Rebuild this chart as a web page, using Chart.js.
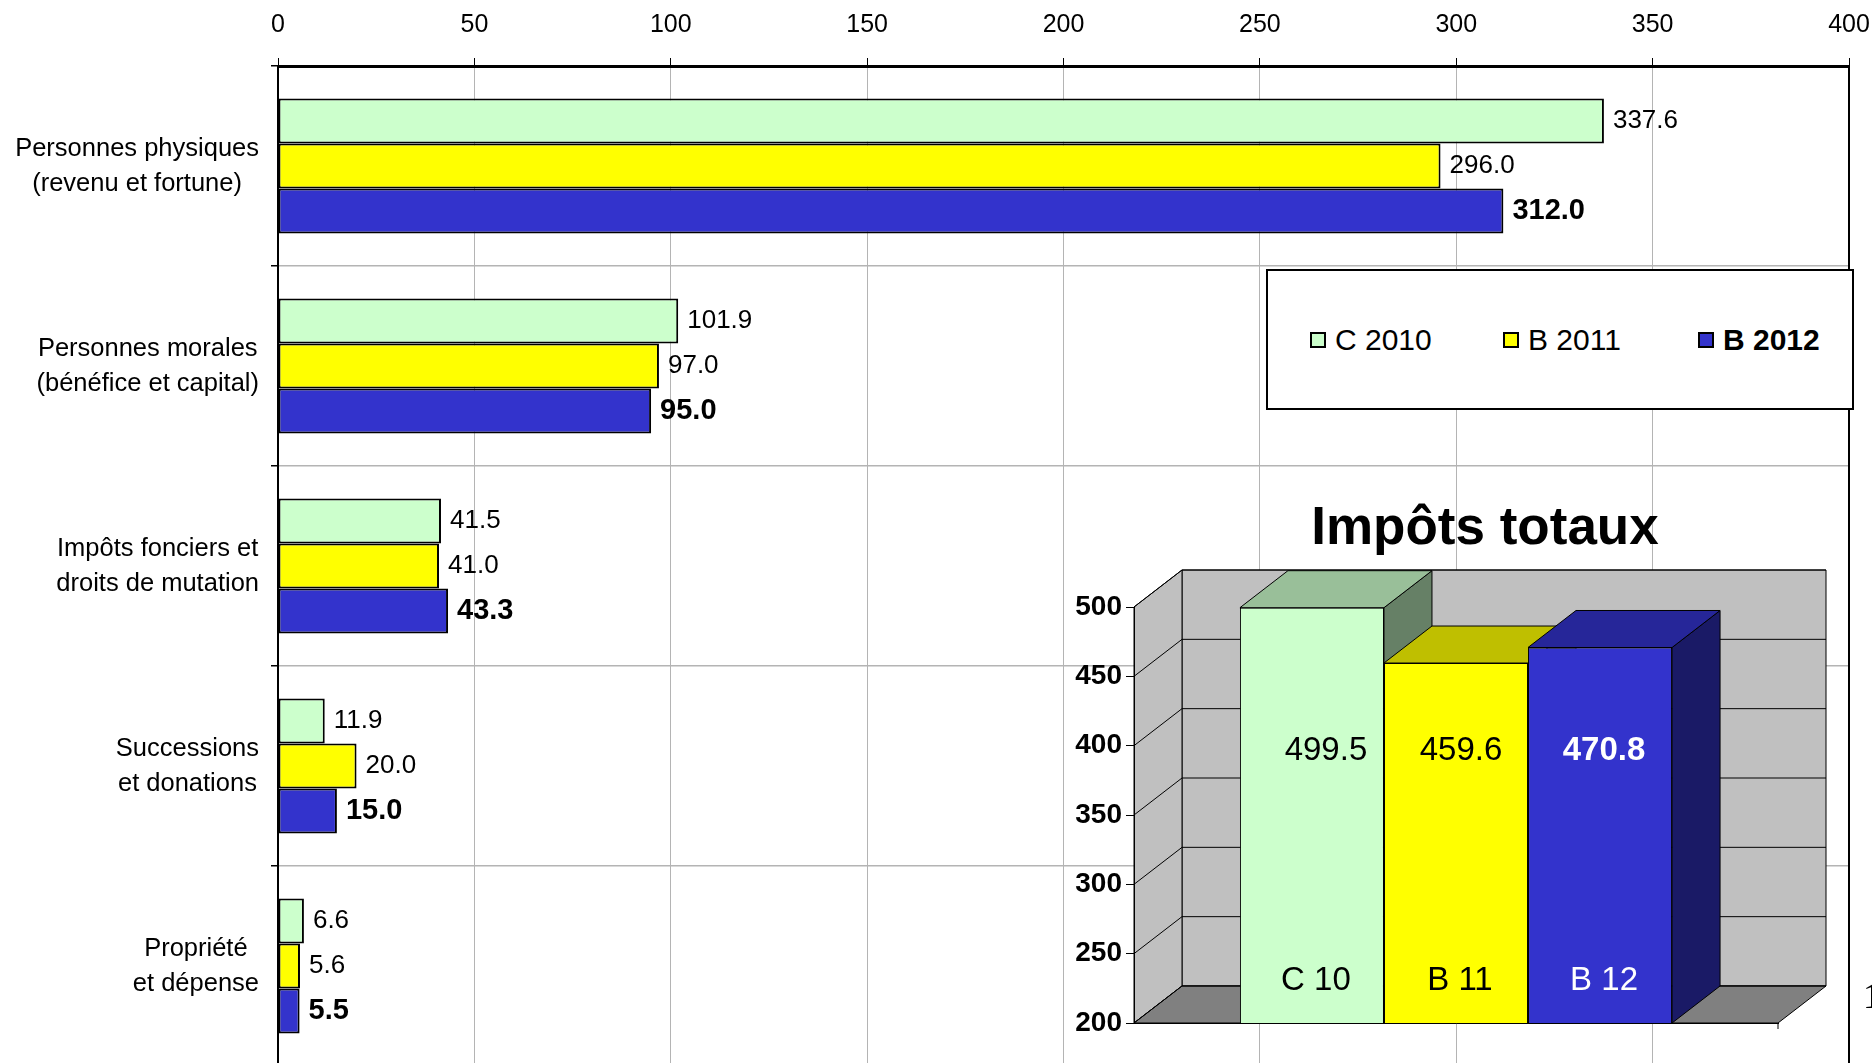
<!DOCTYPE html>
<html>
<head>
<meta charset="utf-8">
<script src="https://cdn.jsdelivr.net/npm/chart.js@4"></script>
<style>
  html, body { margin: 0; padding: 0; background: #fff; overflow: hidden; }
  body { width: 1872px; height: 1063px; position: relative; font-family: "Liberation Sans", Arial, sans-serif; color: #000; }
  #main { position: absolute; left: 0; top: 0; }
  #inset { position: absolute; left: 1040px; top: 560px; }
  #legend { position: absolute; left: 1266px; top: 269px; width: 584px; height: 137px; border: 2px solid #000; background: #fff; }
  #legend .sq { position: absolute; top: 61px; width: 12px; height: 12px; border: 2px solid #000; }
  #legend .txt { position: absolute; top: 51px; font-size: 30px; line-height: 36px; white-space: nowrap; }
  #title { position: absolute; left: 1185px; top: 495px; width: 600px; text-align: center; font-size: 53px; line-height: 62px; font-weight: bold; }
  #page { position: absolute; left: 1863px; top: 976px; font-family: "Liberation Serif", serif; font-size: 36px; line-height: 40px; }
</style>
</head>
<body>
<canvas id="main" width="1872" height="1068"></canvas>
<div id="title">Impôts totaux</div>
<canvas id="inset" width="832" height="503"></canvas>
<div id="legend"></div>
<div id="page">1</div>
<script>
// Data
const categories = [
    ["Personnes physiques", "(revenu et fortune)"],
    ["Personnes morales", "(bénéfice et capital)"],
    ["Impôts fonciers et", "droits de mutation"],
    ["Successions", "et donations"],
    ["Propriété", "et dépense"]
];
const seriesNames = ["C 2010", "B 2011", "B 2012"];
const c2010 = [337.6, 101.9, 41.5, 11.9, 6.6];
const b2011 = [296.0, 97.0, 41.0, 20.0, 5.6];
const b2012 = [312.0, 95.0, 43.3, 15.0, 5.5];
const xTicks = [0, 50, 100, 150, 200, 250, 300, 350, 400];

const totalNames = ["C 10", "B 11", "B 12"];
const totalValues = [499.5, 459.6, 470.8];
const totalTicks = [200, 250, 300, 350, 400, 450, 500];

const colors = ["#CCFFCC", "#FFFF00", "#3333CC"];
const FONT = "'Liberation Sans', Arial, sans-serif";

Chart.defaults.font.family = FONT;
Chart.defaults.color = "#000";

// Legend (html box)
const legendLeft = [42, 235, 430];
const legend = document.getElementById("legend");
seriesNames.forEach((name, i) => {
    const sq = document.createElement("div");
    sq.className = "sq";
    sq.style.left = legendLeft[i] + "px";
    sq.style.background = colors[i];
    legend.appendChild(sq);
    const t = document.createElement("div");
    t.className = "txt";
    t.style.left = (legendLeft[i] + 25) + "px";
    if (i === 2) t.style.fontWeight = "bold";
    t.textContent = name;
    legend.appendChild(t);
});

// value labels at the end of the bars
const barValues = {
    id: "barValues",
    afterDatasetsDraw(chart) {
        const ctx = chart.ctx;
        ctx.save();
        ctx.textBaseline = "middle";
        ctx.textAlign = "left";
        ctx.fillStyle = "#000";
        chart.data.datasets.forEach((ds, i) => {
            ctx.font = i === 2 ? "bold 29px " + FONT : "26px " + FONT;
            chart.getDatasetMeta(i).data.forEach((bar, j) => {
                ctx.fillText(ds.data[j].toFixed(1), bar.x + 9, bar.y);
            });
        });
        ctx.restore();
    }
};

// category labels: block right aligned, lines centred inside the block
const categoryLabels = {
    id: "categoryLabels",
    afterDraw(chart) {
        const ctx = chart.ctx;
        const ys = chart.scales.y;
        ctx.save();
        ctx.font = "25.5px " + FONT;
        ctx.fillStyle = "#000";
        ctx.textAlign = "center";
        ctx.textBaseline = "middle";
        categories.forEach((lines, i) => {
            const c = ys.getPixelForValue(i);
            const widest = Math.max(...lines.map(l => ctx.measureText(l).width));
            const cx = ys.right - 19 - widest / 2;
            lines.forEach((l, k) => {
                ctx.fillText(l, cx, c - 17.5 + k * 35);
            });
        });
        // right frame of the plot
        const a = chart.chartArea;
        ctx.strokeStyle = "#000";
        ctx.lineWidth = 2;
        ctx.beginPath();
        ctx.moveTo(a.right, a.top);
        ctx.lineTo(a.right, a.bottom + 5);
        ctx.stroke();
        ctx.restore();
    }
};

new Chart(document.getElementById("main"), {
    type: "bar",
    data: {
        labels: categories,
        datasets: [c2010, b2011, b2012].map((d, i) => ({
            label: seriesNames[i],
            data: d,
            backgroundColor: colors[i],
            borderColor: "#000",
            borderWidth: 2,
            borderSkipped: false,
            categoryPercentage: 0.675,
            barPercentage: 1
        }))
    },
    options: {
        indexAxis: "y",
        responsive: false,
        animation: false,
        layout: { padding: { left: 0, right: 23, top: 0, bottom: 2 } },
        scales: {
            x: {
                position: "top",
                min: xTicks[0],
                max: xTicks[xTicks.length - 1],
                ticks: { stepSize: xTicks[1] - xTicks[0], font: { size: 25 }, padding: 18 },
                grid: { color: "#b4b4b4", tickColor: "#000", tickLength: 8 },
                border: { color: "#000", width: 3 },
                afterFit: s => { s.height = 66; s.paddingLeft = 0; s.paddingRight = 0; }
            },
            y: {
                ticks: { display: false },
                grid: { color: "#b4b4b4", tickColor: "#000", tickLength: 7, lineWidth: 1.5, offset: true },
                border: { color: "#000", width: 2 },
                afterFit: s => { s.width = 278; }
            }
        },
        plugins: {
            legend: { display: false },
            tooltip: { enabled: false }
        }
    },
    plugins: [barValues, categoryLabels]
});

// ---- inset 3D column chart ----
const DX = 48, DY = 37;
const labelShift = [14, 5, 4];

function shade(hex, f) {
    const n = parseInt(hex.slice(1), 16);
    const r = Math.round(((n >> 16) & 255) * f);
    const g = Math.round(((n >> 8) & 255) * f);
    const b = Math.round((n & 255) * f);
    return "rgb(" + r + "," + g + "," + b + ")";
}

function poly(ctx, pts, fill) {
    ctx.beginPath();
    ctx.moveTo(pts[0][0], pts[0][1]);
    pts.slice(1).forEach(p => ctx.lineTo(p[0], p[1]));
    ctx.closePath();
    ctx.fillStyle = fill;
    ctx.fill();
    ctx.stroke();
}

function line(ctx, x1, y1, x2, y2) {
    ctx.beginPath();
    ctx.moveTo(x1, y1);
    ctx.lineTo(x2, y2);
    ctx.stroke();
}

const box3d = {
    id: "box3d",
    beforeDraw(chart) {
        const ctx = chart.ctx;
        const a = chart.chartArea;
        const ys = chart.scales.y;
        ctx.save();
        ctx.strokeStyle = "#000";
        ctx.lineWidth = 1;
        poly(ctx, [[a.left + DX, a.top - DY], [a.right + DX, a.top - DY], [a.right + DX, a.bottom - DY], [a.left + DX, a.bottom - DY]], "#c0c0c0");
        poly(ctx, [[a.left, a.top], [a.left + DX, a.top - DY], [a.left + DX, a.bottom - DY], [a.left, a.bottom]], "#c0c0c0");
        poly(ctx, [[a.left, a.bottom], [a.right, a.bottom], [a.right + DX, a.bottom - DY], [a.left + DX, a.bottom - DY]], "#808080");
        ys.ticks.forEach(t => {
            const p = ys.getPixelForValue(t.value);
            line(ctx, a.left, p, a.left + DX, p - DY);
            line(ctx, a.left + DX, p - DY, a.right + DX, p - DY);
        });
        line(ctx, a.right, a.bottom, a.right, a.bottom + 6);
        ctx.restore();
    },
    beforeDatasetsDraw(chart) {
        const ctx = chart.ctx;
        const a = chart.chartArea;
        ctx.save();
        ctx.strokeStyle = "#000";
        ctx.lineWidth = 1;
        chart.data.datasets.forEach((ds, i) => {
            const bar = chart.getDatasetMeta(i).data[0];
            const { x, y, width } = bar.getProps(["x", "y", "width"], true);
            const base = a.bottom;
            const L = x - width / 2, R = x + width / 2;
            poly(ctx, [[R, y], [R + DX, y - DY], [R + DX, base - DY], [R, base]], shade(colors[i], 0.5));
            poly(ctx, [[L, y], [R, y], [R + DX, y - DY], [L + DX, y - DY]], shade(colors[i], 0.75));
        });
        ctx.restore();
    },
    afterDatasetsDraw(chart) {
        const ctx = chart.ctx;
        const ys = chart.scales.y;
        ctx.save();
        ctx.textAlign = "center";
        ctx.textBaseline = "middle";
        chart.data.datasets.forEach((ds, i) => {
            const bar = chart.getDatasetMeta(i).data[0];
            ctx.fillStyle = i === 2 ? "#fff" : "#000";
            ctx.font = (i === 2 ? "bold " : "") + "33px " + FONT;
            ctx.fillText(ds.data[0].toFixed(1), bar.x + labelShift[i], ys.getPixelForValue(396));
            ctx.font = "33px " + FONT;
            ctx.fillText(ds.label, bar.x + 4, ys.getPixelForValue(230));
        });
        ctx.restore();
    }
};

new Chart(document.getElementById("inset"), {
    type: "bar",
    data: {
        labels: [""],
        datasets: totalValues.map((v, i) => ({
            label: totalNames[i],
            data: [v],
            backgroundColor: colors[i],
            borderColor: "#000",
            borderWidth: 1,
            borderSkipped: false,
            categoryPercentage: 0.671,
            barPercentage: 1
        }))
    },
    options: {
        responsive: false,
        animation: false,
        layout: { padding: { left: 0, right: 94, top: 47, bottom: 40 } },
        scales: {
            x: {
                ticks: { display: false },
                grid: { display: false },
                border: { color: "#000", width: 1 },
                afterFit: s => { s.height = 0; }
            },
            y: {
                min: totalTicks[0],
                max: totalTicks[totalTicks.length - 1],
                ticks: { stepSize: totalTicks[1] - totalTicks[0], font: { size: 28, weight: "bold" }, padding: 4 },
                grid: { drawOnChartArea: false, color: "#000", tickLength: 8 },
                border: { color: "#000", width: 1 },
                afterFit: s => { s.width = 94; }
            }
        },
        plugins: {
            legend: { display: false },
            tooltip: { enabled: false }
        }
    },
    plugins: [box3d]
});
</script>
</body>
</html>
